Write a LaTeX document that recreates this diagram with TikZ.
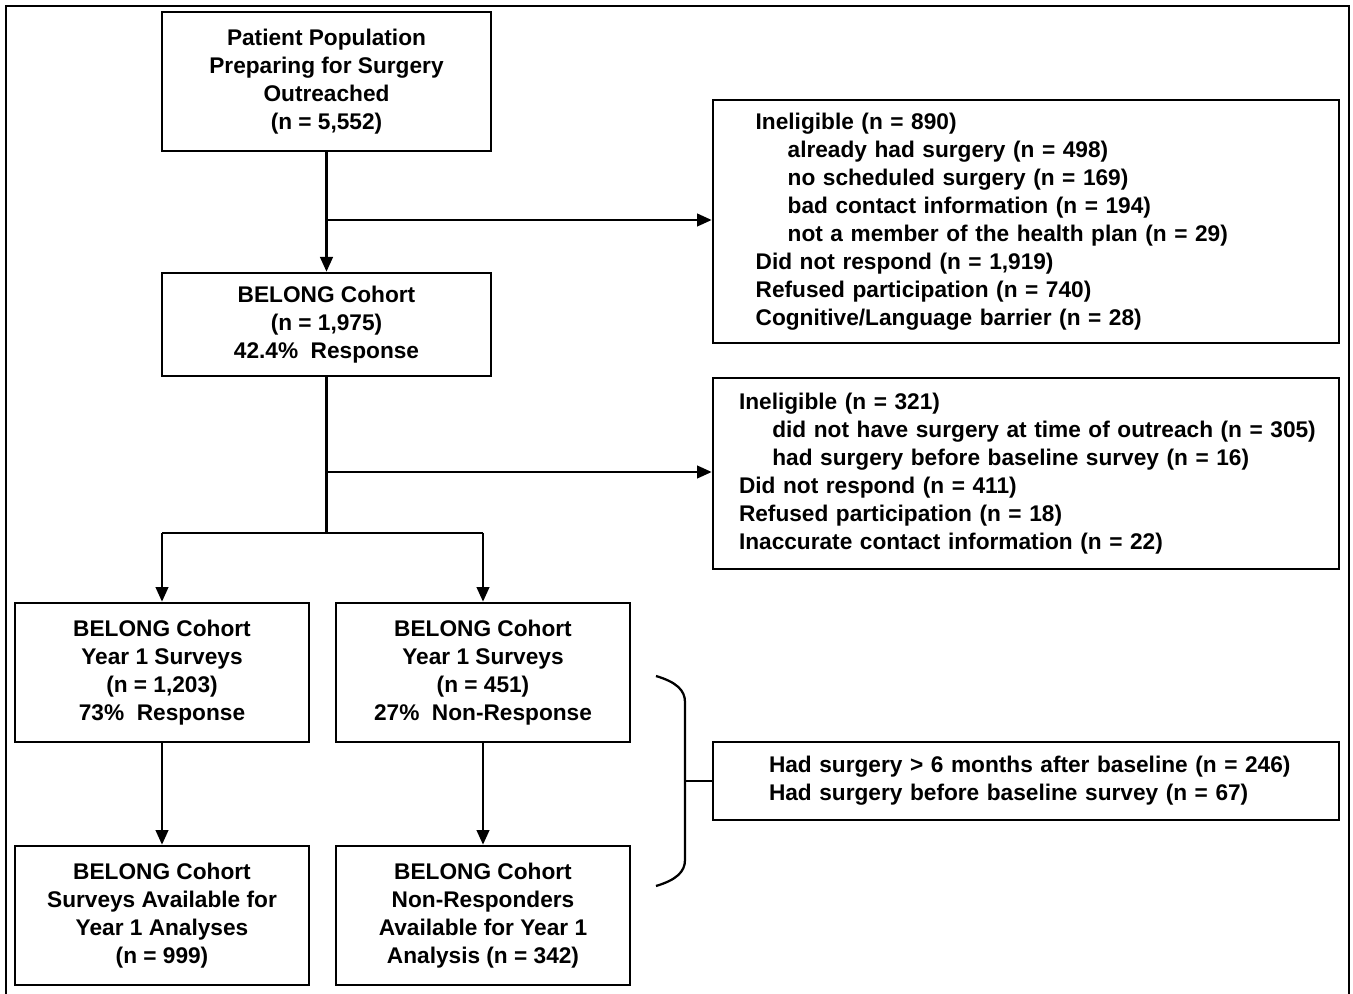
\documentclass[tikz,border=0pt]{standalone}
\usepackage{fontspec}
\setmainfont{Liberation Sans}
\usetikzlibrary{arrows.meta}
\def\u{0.75pt}
\newcommand{\ind}{\hspace*{24pt}}
\begin{document}
\begin{tikzpicture}[x=0.75pt,y=-0.75pt,
  box/.style={draw, line width=2pt, inner sep=0pt, font=\bfseries\fontsize{17}{21}\selectfont},
  cbox/.style={box, align=center, minimum width=294*\u, minimum height=139*\u},
  lbox/.style={box, align=left, minimum width=626*\u, text width=626*\u},
  conn/.style={line width=1.7pt},
  arr/.style={conn, -{Triangle[length=11pt,width=9.5pt]}}
]
\useasboundingbox (0,0) rectangle (1353,994);
\draw[line width=1.6pt] (6,1000) -- (6,6) -- (1349,6) -- (1349,1000);

\node[cbox, minimum width=329*\u] (A) at (326.5,81.5)
  {Patient Population\\Preparing for Surgery\\Outreached\\(n = 5,552)};
\node[cbox, minimum width=329*\u, minimum height=103*\u] (B) at (326.5,324.5)
  {BELONG Cohort\\(n = 1,975)\\42.4\%~ Response};
\node[cbox] (C1) at (162,672.5) {BELONG Cohort\\Year 1 Surveys\\(n = 1,203)\\73\%~ Response};
\node[cbox] (C2) at (483,672.5) {BELONG Cohort\\Year 1 Surveys\\(n = 451)\\27\%~ Non-Response};
\node[cbox] (D1) at (162,915.5) {BELONG Cohort\\Surveys Available for\\Year 1 Analyses\\(n = 999)};
\node[cbox] (D2) at (483,915.5) {BELONG Cohort\\Non-Responders\\Available for Year 1\\Analysis (n = 342)};

\node[lbox, minimum height=243*\u] (R1) at (1026,221.5)
  {\hspace*{32pt}Ineligible (n = 890)\\
   \hspace*{32pt}\ind already had surgery (n = 498)\\
   \hspace*{32pt}\ind no scheduled surgery (n = 169)\\
   \hspace*{32pt}\ind bad contact information (n = 194)\\
   \hspace*{32pt}\ind not a member of the health plan (n = 29)\\
   \hspace*{32pt}Did not respond (n = 1,919)\\
   \hspace*{32pt}Refused participation (n = 740)\\
   \hspace*{32pt}Cognitive/Language barrier (n = 28)};
\node[lbox, minimum height=191*\u] (R2) at (1026,473.5)
  {\hspace*{19.5pt}Ineligible (n = 321)\\
   \hspace*{19.5pt}\hspace*{25pt}did not have surgery at time of outreach (n = 305)\\
   \hspace*{19.5pt}\hspace*{25pt}had surgery before baseline survey (n = 16)\\
   \hspace*{19.5pt}Did not respond (n = 411)\\
   \hspace*{19.5pt}Refused participation (n = 18)\\
   \hspace*{19.5pt}Inaccurate contact information (n = 22)};
\node[lbox, minimum height=78*\u] (R3) at (1026,781)
  {\hspace*{42pt}Had surgery > 6 months after baseline (n = 246)\\
   \hspace*{42pt}Had surgery before baseline survey (n = 67)};

\draw[arr] (A.south) -- (B.north);
\draw[arr] (A.south |- 0,220) -- (R1.west |- 0,220);
\coordinate (s) at (326.5,533);
\draw[conn] (B.south) -- (s);
\draw[arr] (B.south |- 0,472) -- (R2.west |- 0,472);
\draw[conn] (C1.north |- s) -- (C2.north |- s);
\draw[arr] (C1.north |- s) -- (C1.north);
\draw[arr] (C2.north |- s) -- (C2.north);
\draw[arr] (C1.south) -- (D1.north);
\draw[arr] (C2.south) -- (D2.north);

\coordinate (b1) at (656,676);
\coordinate (b4) at (656,886);
\coordinate (bt) at (685,781);
\draw[conn] (b1) .. controls (676,682) and (685,690) .. (685,702) -- (685,860)
  .. controls (685,872) and (676,880) .. (b4);
\draw[conn] (bt) -- (R3.west);
\end{tikzpicture}
\end{document}
